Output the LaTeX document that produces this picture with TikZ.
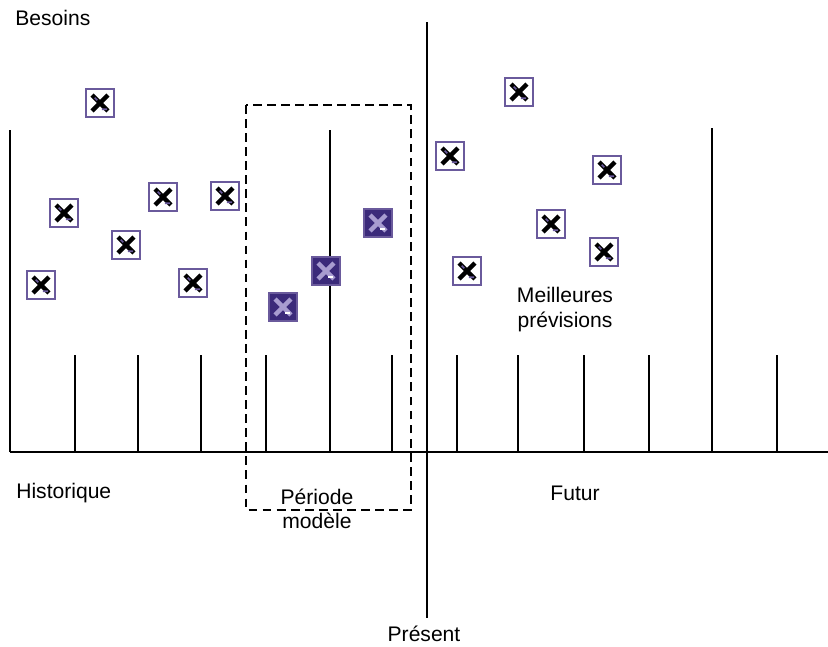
\documentclass[tikz,border=0pt]{standalone}
\usepackage{fontspec}
\setmainfont{Liberation Sans}
\usetikzlibrary{positioning}

\definecolor{boxedge}{HTML}{6A5A9C}
\definecolor{boxdark}{HTML}{3B2A7A}
\definecolor{crosslight}{HTML}{A89CD0}

\tikzset{
  label text/.style={font=\fontsize{12}{14}\selectfont, inner sep=0pt},
  need/.style={rectangle, draw=boxedge, line width=1.2pt, fill=white,
    minimum size=15.5pt, inner sep=0pt,
    path picture={
      \draw[line width=2.6pt, black]
        ([shift={(-4.5pt,4.5pt)}]path picture bounding box.center) --
        ([shift={(4.5pt,-4.5pt)}]path picture bounding box.center)
        ([shift={(-4.5pt,-4.5pt)}]path picture bounding box.center) --
        ([shift={(4.5pt,4.5pt)}]path picture bounding box.center);
      \draw[line width=1pt, boxedge]
        ([shift={(1pt,-3.5pt)}]path picture bounding box.center) --
        ([shift={(4pt,-3.5pt)}]path picture bounding box.center)
        ([shift={(-3pt,3pt)}]path picture bounding box.center) --
        ([shift={(-1.5pt,1.5pt)}]path picture bounding box.center);
    }},
  model need/.style={need, fill=boxdark,
    path picture={
      \draw[line width=2.6pt, crosslight]
        ([shift={(-4.5pt,4.5pt)}]path picture bounding box.center) --
        ([shift={(4.5pt,-4.5pt)}]path picture bounding box.center)
        ([shift={(-4.5pt,-4.5pt)}]path picture bounding box.center) --
        ([shift={(4.5pt,4.5pt)}]path picture bounding box.center);
      \draw[line width=1pt, white]
        ([shift={(1pt,-3.5pt)}]path picture bounding box.center) --
        ([shift={(4pt,-3.5pt)}]path picture bounding box.center);
    }},
}

\begin{document}
\begin{tikzpicture}[x=0.02cm, y=-0.02cm, line width=1.5pt]
  \useasboundingbox (0,0) rectangle (828,646);

  % axes
  \coordinate (origin) at (10,452);
  \coordinate (axisend) at (828,452);
  \coordinate (ytop) at (10,130);
  \coordinate (nowtop) at (427,22);
  \coordinate (nowbottom) at (427,618);
  \draw (origin) -- (axisend);
  \draw (origin) -- (ytop);
  \draw (nowtop) -- (nowbottom);

  % period ticks
  \foreach \x in {75,138,201,266,392,457,518,584,649,777}
    \draw (\x,355) -- (\x,452);
  \foreach \x/\top in {330/130,712/128}
    \draw (\x,\top) -- (\x,452);

  % model window
  \draw[dash pattern=on 5pt off 3pt] (246,105) rectangle (411,510);

  % past and future needs
  \begin{scope}[every node/.style={need}]
    \node (h1) at (100,103) {};
    \node (h2) at (64,213) {};
    \node (h3) at (41,285) {};
    \node (h4) at (126,245) {};
    \node (h5) at (163,197) {};
    \node (h6) at (225,196) {};
    \node (h7) at (193,283) {};
    \node (f1) at (450,156) {};
    \node (f2) at (519,92) {};
    \node (f3) at (607,170) {};
    \node (f4) at (551,224) {};
    \node (f5) at (604,252) {};
    \node (f6) at (467,271) {};
  \end{scope}
  \begin{scope}[every node/.style={model need}]
    \node (m1) at (283,307) {};
    \node (m2) at (326,271) {};
    \node (m3) at (378,223) {};
  \end{scope}

  % labels
  \begin{scope}[every node/.style={label text}]
    \node[anchor=west] (besoins) at (14,18) {Besoins};
    \node[anchor=west] (historique) at (15,493) {Historique};
    \node (periode) at (317,497) {Période};
    \node[below=3pt of periode, label text] (modele) {modèle};
    \node (futur) at (575,493) {Futur};
    \node (present) at (424,634) {Présent};
    \node (meilleures) at (565,295) {Meilleures};
    \node[below=4pt of meilleures, label text] (previsions) {prévisions};
  \end{scope}
\end{tikzpicture}
\end{document}
